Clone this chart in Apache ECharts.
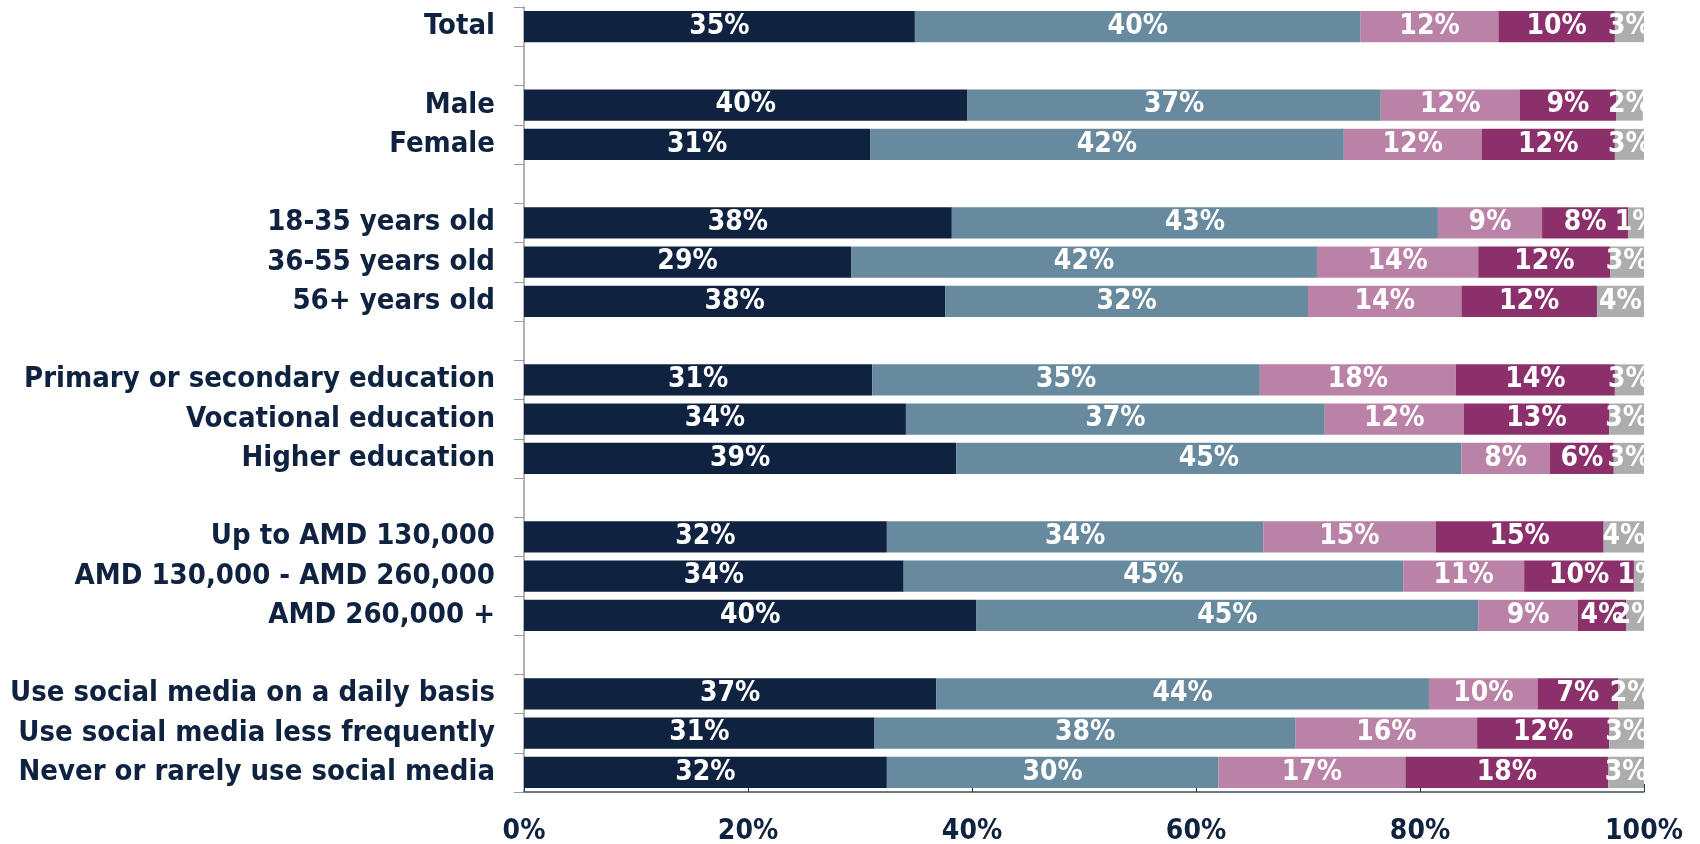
<!DOCTYPE html>
<html>
<head>
<meta charset="utf-8">
<script src="https://cdn.jsdelivr.net/npm/echarts@6/dist/echarts.min.js"></script>
<style>
html,body{margin:0;padding:0;background:#fff;}
#chart{width:1700px;height:844px;}
</style>
</head>
<body>
<div id="chart"></div>
<script>
const categories = [
  'Total', '',
  'Male', 'Female', '',
  '18-35 years old', '36-55 years old', '56+ years old', '',
  'Primary or secondary education', 'Vocational education', 'Higher education', '',
  'Up to AMD 130,000', 'AMD 130,000 - AMD 260,000', 'AMD 260,000 +', '',
  'Use social media on a daily basis', 'Use social media less frequently', 'Never or rarely use social media'
];
const s1 = [34.9, null, 39.6, 30.9, null, 38.2, 29.2, 37.6, null, 31.1, 34.1, 38.6, null, 32.4, 33.9, 40.4, null, 36.8, 31.3, 32.4];
const s2 = [39.8, null, 36.9, 42.3, null, 43.4, 41.6, 32.4, null, 34.6, 37.4, 45.1, null, 33.6, 44.6, 44.8, null, 44.0, 37.6, 29.6];
const s3 = [12.3, null, 12.4, 12.3, null, 9.3, 14.4, 13.7, null, 17.5, 12.4, 7.9, null, 15.4, 10.8, 8.9, null, 9.7, 16.2, 16.7];
const s4 = [10.4, null, 8.6, 11.9, null, 7.7, 11.8, 12.1, null, 14.2, 13.0, 5.7, null, 15.0, 9.8, 4.3, null, 7.2, 11.8, 18.1];
const s5 = [2.6, null, 2.4, 2.6, null, 1.4, 3.0, 4.2, null, 2.6, 3.1, 2.7, null, 3.6, 0.9, 1.6, null, 2.3, 3.1, 3.2];
const xTicks = [0, 20, 40, 60, 80, 100];

const colors = ['#0f2340', '#678a9e', '#bb82a7', '#8c306c', '#adadad'];
const FONT = '"DejaVu Sans Condensed", "DejaVu Sans", sans-serif';

const chart = echarts.init(document.getElementById('chart'));
const mk = (data, i) => ({
  type: 'bar',
  stack: 'all',
  data: data,
  barCategoryGap: '21%',
  itemStyle: { color: colors[i] },
  label: {
    show: true,
    position: 'inside',
    color: '#ffffff',
    fontFamily: FONT,
    fontWeight: 'bold',
    fontSize: 28,
    formatter: p => (p.value == null ? '' : Math.round(p.value) + '%')
  },
  emphasis: { disabled: true }
});

chart.setOption({
  animation: false,
  grid: { left: 524, right: 56, top: 7, bottom: 52, containLabel: false, outerBoundsMode: 'none' },
  xAxis: {
    type: 'value',
    min: xTicks[0],
    max: xTicks[xTicks.length - 1],
    interval: 20,
    splitLine: { show: false },
    axisLine: { show: true, lineStyle: { color: '#3e4e62', width: 1.5 } },
    axisTick: { show: true, inside: true, length: 8, lineStyle: { color: '#2a3a50' } },
    axisLabel: {
      margin: 26,
      color: '#0f2340',
      fontFamily: FONT,
      fontWeight: 'bold',
      fontSize: 28,
      formatter: v => v + '%'
    }
  },
  yAxis: {
    type: 'category',
    data: categories,
    inverse: true,
    axisLine: { show: true, lineStyle: { color: '#9a9a9a', width: 1.5 } },
    axisTick: { show: true, length: 10, lineStyle: { color: '#9a9a9a' } },
    axisLabel: {
      interval: 0,
      margin: 29,
      color: '#0f2340',
      fontFamily: FONT,
      fontWeight: 'bold',
      fontSize: 29
    }
  },
  series: [mk(s1, 0), mk(s2, 1), mk(s3, 2), mk(s4, 3), mk(s5, 4)]
});
</script>
</body>
</html>
